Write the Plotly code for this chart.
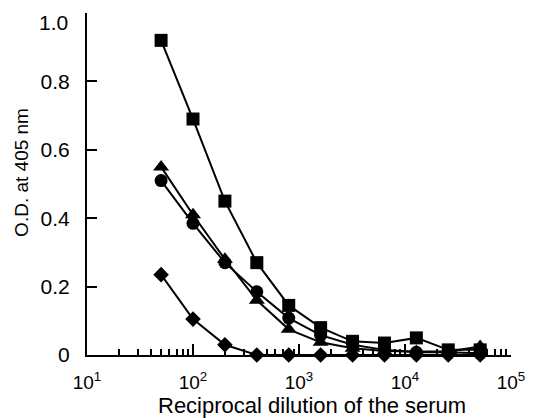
import plotly.graph_objects as go

dilution = [50, 100, 200, 400, 800, 1600, 3200, 6400, 12800, 25600, 51200]
squares = [0.92, 0.69, 0.45, 0.27, 0.145, 0.08, 0.04, 0.035, 0.05, 0.015, 0.015]
triangles = [0.55, 0.41, 0.28, 0.16, 0.075, 0.037, 0.02, 0.012, 0.01, 0.01, 0.025]
circles = [0.51, 0.385, 0.27, 0.185, 0.108, 0.058, 0.03, 0.015, 0.008, 0.008, 0.005]
diamonds = [0.235, 0.105, 0.03, 0.0, 0.0, 0.0, 0.0, 0.0, 0.0, 0.0, 0.0]

x_tickvals = [10, 100, 1000, 10000, 100000]
x_ticktext = ["10<sup>1</sup>", "10<sup>2</sup>", "10<sup>3</sup>", "10<sup>4</sup>", "10<sup>5</sup>"]
x_minor = [m * 10 ** e for e in range(1, 5) for m in range(2, 10)]
y_tickvals = [0, 0.2, 0.4, 0.6, 0.8, 1.0]
y_ticktext = ["0", "0.2", "0.4", "0.6", "0.8", "1.0"]

FONT = "Liberation Sans, Arial, sans-serif"

fig = go.Figure()
series = [
    (diamonds, "diamond", 12),
    (squares, "square", 13),
    (triangles, "triangle-up", 14),
    (circles, "circle", 13),
]
for vals, sym, sz in series:
    fig.add_trace(go.Scatter(
        x=dilution, y=vals, mode="lines+markers",
        line=dict(color="black", width=2),
        marker=dict(symbol=sym, size=sz, color="black"),
        cliponaxis=False, showlegend=False,
    ))

fig.update_layout(
    width=532, height=410,
    margin=dict(l=79, r=29, t=5, b=63, autoexpand=False),
    paper_bgcolor="white", plot_bgcolor="white",
    font=dict(family=FONT, color="black", size=19),
    showlegend=False,
)
fig.update_xaxes(
    type="log", range=[1, 5], automargin=False,
    showgrid=False, zeroline=False,
    showline=True, linecolor="black", linewidth=2,
    ticks="inside", ticklen=11, tickwidth=1.5, tickcolor="black",
    tickvals=x_tickvals, ticktext=x_ticktext,
    ticklabelstandoff=9, ticklabeloverflow="allow",
    tickfont=dict(size=19),
    minor=dict(ticks="inside", ticklen=6, tickwidth=1.5, tickcolor="black",
               tickvals=x_minor, showgrid=False),
)
# top label (1.0) is drawn as an annotation nudged down so it is not clipped
fig.update_yaxes(
    range=[0, 1.0], automargin=False,
    showgrid=False, zeroline=False,
    showline=True, linecolor="black", linewidth=2,
    ticks="inside", ticklen=10, tickwidth=2, tickcolor="black",
    tickvals=y_tickvals, ticktext=y_ticktext[:-1] + [""],
    ticklabelstandoff=11, ticklabeloverflow="allow",
    tickfont=dict(size=21),
)
fig.add_annotation(
    text=y_ticktext[-1], xref="paper", yref="y",
    x=-0.040, y=y_tickvals[-1], xanchor="right", yanchor="middle",
    yshift=-9, showarrow=False, font=dict(size=21),
)
fig.add_annotation(
    text="O.D. at 405 nm", xref="paper", yref="paper",
    x=-0.156, y=0.535, xanchor="center", yanchor="middle",
    textangle=-90, showarrow=False, font=dict(size=19),
)
fig.add_annotation(
    text="Reciprocal dilution of the serum", xref="paper", yref="paper",
    x=0.531, y=-0.147, xanchor="center", yanchor="middle",
    showarrow=False, font=dict(size=22),
)

fig.write_html("out.html")
